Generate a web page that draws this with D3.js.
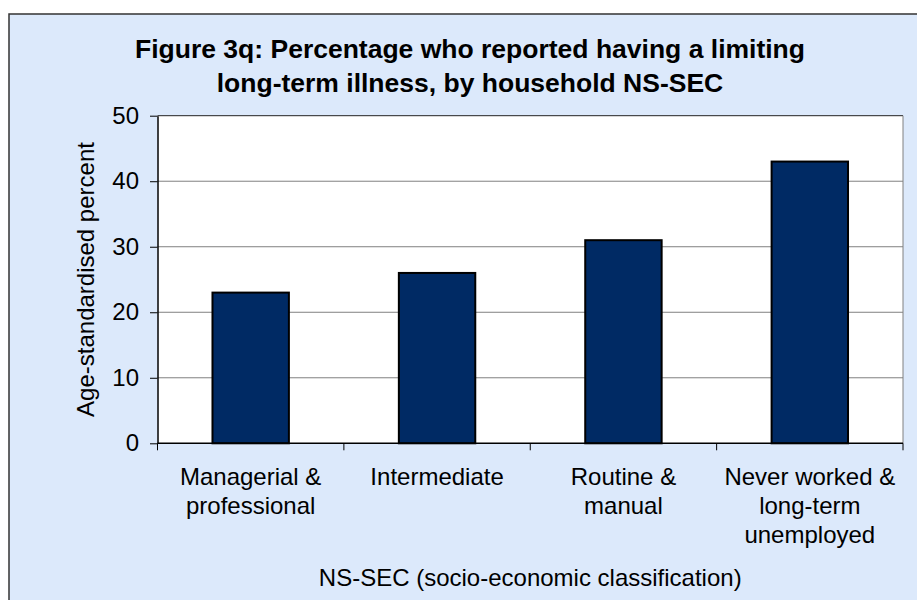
<!DOCTYPE html>
<html>
<head>
<meta charset="utf-8">
<script src="https://cdn.jsdelivr.net/npm/d3@7"></script>
<style>
  body { margin: 0; background: #fff; }
  svg { display: block; font-family: Arial, "Liberation Sans", sans-serif; }
</style>
</head>
<body>
<svg id="chart" width="917" height="600"></svg>
<script>
const categories = ["Managerial & professional", "Intermediate", "Routine & manual", "Never worked & long-term unemployed"];
const categoryLines = [["Managerial &", "professional"], ["Intermediate"], ["Routine &", "manual"], ["Never worked &", "long-term", "unemployed"]];
const values = [23, 26, 31, 43];
const yTicks = [0, 10, 20, 30, 40, 50];
const titleLines = ["Figure 3q: Percentage who reported having a limiting", "long-term illness, by household NS-SEC"];

const svg = d3.select("#chart");
const plot = { left: 157.5, top: 115.7, right: 903, bottom: 443.3 };

// chart area
svg.append("rect")
  .attr("x", 9).attr("y", 14)
  .attr("width", 940).attr("height", 620)
  .attr("fill", "#dce9fb")
  .attr("stroke", "#333").attr("stroke-width", 1.5);

const x = d3.scaleBand().domain(categories).range([plot.left, plot.right]).paddingInner(0).paddingOuter(0);
const y = d3.scaleLinear().domain([0, 50]).range([plot.bottom, plot.top]);

svg.append("rect")
  .attr("x", plot.left).attr("y", plot.top)
  .attr("width", plot.right - plot.left).attr("height", plot.bottom - plot.top)
  .attr("fill", "#fff");

// gridlines
svg.append("g")
  .selectAll("line")
  .data(yTicks.filter(d => d > 0 && d < 50))
  .enter().append("line")
    .attr("x1", plot.left).attr("x2", plot.right)
    .attr("y1", d => y(d)).attr("y2", d => y(d))
    .attr("stroke", "#808080").attr("stroke-width", 1);

// plot frame top/right
svg.append("line")
  .attr("x1", plot.left).attr("x2", plot.right)
  .attr("y1", plot.top).attr("y2", plot.top)
  .attr("stroke", "#222").attr("stroke-width", 1);
svg.append("line")
  .attr("x1", plot.right).attr("x2", plot.right)
  .attr("y1", plot.top).attr("y2", plot.bottom)
  .attr("stroke", "#808080").attr("stroke-width", 1);

// bars
const barW = x.bandwidth() * 0.41;
svg.append("g")
  .selectAll("rect")
  .data(values)
  .enter().append("rect")
    .attr("x", (d, i) => x(categories[i]) + (x.bandwidth() - barW) / 2)
    .attr("y", d => y(d))
    .attr("width", barW)
    .attr("height", d => y(0) - y(d))
    .attr("fill", "#002a64")
    .attr("stroke", "#000").attr("stroke-width", 2);

// y axis
const yAxis = svg.append("g")
  .attr("transform", `translate(${plot.left},0)`)
  .call(d3.axisLeft(y).tickValues(yTicks).tickSize(7.5).tickPadding(11).tickSizeOuter(0));
yAxis.select(".domain").attr("stroke", "#000").attr("stroke-width", 1.5);
yAxis.selectAll(".tick line").attr("stroke", "#000");
yAxis.selectAll("text").attr("font-size", 24).attr("fill", "#000").attr("font-family", null);

// x axis
const boundaries = categories.map(c => x(c)).concat([plot.right]);
svg.append("line")
  .attr("x1", plot.left).attr("x2", plot.right)
  .attr("y1", plot.bottom).attr("y2", plot.bottom)
  .attr("stroke", "#000").attr("stroke-width", 1.5);
svg.append("g")
  .selectAll("line")
  .data(boundaries)
  .enter().append("line")
    .attr("x1", d => d).attr("x2", d => d)
    .attr("y1", plot.bottom).attr("y2", plot.bottom + 7)
    .attr("stroke", "#000").attr("stroke-width", 1);

const xLabels = svg.append("g")
  .attr("font-size", 24).attr("text-anchor", "middle").attr("fill", "#000");
categories.forEach((c, i) => {
  const t = xLabels.append("text")
    .attr("x", x(c) + x.bandwidth() / 2)
    .attr("y", plot.bottom + 42);
  categoryLines[i].forEach((line, j) => {
    t.append("tspan")
      .attr("x", x(c) + x.bandwidth() / 2)
      .attr("dy", j === 0 ? 0 : 29)
      .text(line);
  });
});

// axis titles
svg.append("text")
  .attr("x", (plot.left + plot.right) / 2).attr("y", 585.5)
  .attr("text-anchor", "middle").attr("font-size", 24)
  .text("NS-SEC (socio-economic classification)");

svg.append("text")
  .attr("transform", `translate(94,${(plot.top + plot.bottom) / 2}) rotate(-90)`)
  .attr("text-anchor", "middle").attr("font-size", 24)
  .text("Age-standardised percent");

// title
svg.append("g")
  .attr("font-size", 26.5).attr("font-weight", "bold").attr("text-anchor", "middle")
  .selectAll("text")
  .data(titleLines)
  .enter().append("text")
    .attr("x", 470)
    .attr("y", (d, i) => 57.5 + i * 34)
    .text(d => d);
</script>
</body>
</html>
